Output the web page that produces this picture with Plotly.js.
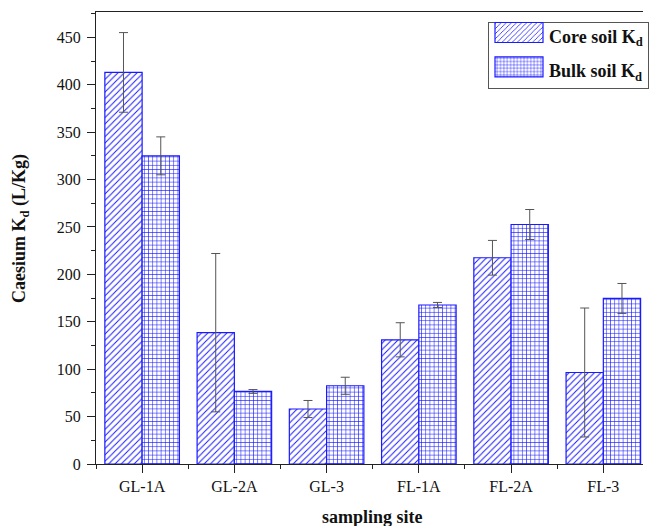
<!DOCTYPE html>
<html>
<head>
<meta charset="utf-8">
<script src="https://cdn.plot.ly/plotly-3.0.1.min.js"></script>
<style>
html,body{margin:0;padding:0;background:#fff;overflow:hidden;}
#chart{width:649px;height:526px;}
</style>
</head>
<body>
<div id="chart"></div>
<script>
const categories = ["GL-1A", "GL-2A", "GL-3", "FL-1A", "FL-2A", "FL-3"];
const coreKd = [413, 138.5, 58, 131, 217.5, 96.5];
const coreErr = [42, 83.5, 9, 18, 18.3, 68];
const bulkKd = [325, 76.5, 82.5, 167.7, 252.6, 174.6];
const bulkErr = [20, 2, 9, 2.7, 15.8, 15.8];
const seriesNames = ["Core soil K<sub>d</sub>", "Bulk soil K<sub>d</sub>"];
const yTitle = "Caesium K<sub>d</sub> (L/Kg)";
const xTitle = "sampling site";

const xPos = categories.map((_, i) => i);
const serif = "Liberation Serif, Times New Roman, serif";
const blue = "#1a1aff";

const data = [
  {
    type: "bar", name: seriesNames[0], x: xPos, y: coreKd, legendgroup: "core",
    marker: {color: "#ffffff", line: {color: blue, width: 1.2},
      pattern: {shape: "/", fgcolor: blue, bgcolor: "#ffffff", size: 4.5, solidity: 0.22}},
    error_y: {type: "data", array: coreErr, visible: true, color: "#555555", thickness: 1, width: 4.5}
  },
  {
    type: "bar", name: seriesNames[1], x: xPos, y: bulkKd, legendgroup: "bulk",
    marker: {color: "#ffffff", line: {color: blue, width: 1.2},
      pattern: {shape: "+", fgcolor: blue, bgcolor: "#ffffff", size: 4.2, solidity: 0.25}},
    error_y: {type: "data", array: bulkErr, visible: true, color: "#555555", thickness: 1, width: 4.5}
  }
];

const layout = {
  width: 649, height: 526,
  margin: {l: 96, r: 0, t: 12, b: 62, pad: 0},
  paper_bgcolor: "#ffffff", plot_bgcolor: "#ffffff",
  barmode: "group", bargap: 0.192, bargroupgap: 0,
  font: {family: serif, color: "#111111", size: 16},
  showlegend: true,
  legend: {
    x: 0.7167, y: (464 - 16) / 452.3, xanchor: "left", yanchor: "top",
    bgcolor: "#ffffff", bordercolor: "#555555", borderwidth: 1,
    font: {family: serif, size: 18, weight: "bold", color: "#111111"},
    itemwidth: 50, tracegroupgap: 8
  },
  xaxis: {
    type: "linear", range: [-0.5, 5.43],
    tickmode: "array", tickvals: xPos, ticktext: categories,
    ticks: "outside", ticklen: 8, tickwidth: 1, tickcolor: "#222222",
    minor: {ticks: "outside", tick0: 0.5, dtick: 1, ticklen: 4, tickwidth: 1, tickcolor: "#222222", showgrid: false},
    showline: true, linecolor: "#222222", linewidth: 1, mirror: true,
    showgrid: false, zeroline: false,
    tickfont: {family: serif, size: 16, color: "#111111"}
  },
  yaxis: {
    range: [0, 476.7], tick0: 0, dtick: 50,
    ticks: "outside", ticklen: 8, tickwidth: 1, tickcolor: "#222222",
    minor: {ticks: "outside", tick0: 25, dtick: 50, ticklen: 4.5, tickwidth: 1, tickcolor: "#222222", showgrid: false},
    showline: true, linecolor: "#222222", linewidth: 1,
    showgrid: false, zeroline: false, ticklabelstandoff: 3,
    tickfont: {family: serif, size: 16, color: "#111111"}
  },
  annotations: [
    {text: yTitle, xref: "paper", yref: "paper", x: -0.137, y: 0.52, xanchor: "center", yanchor: "middle",
     textangle: -90, showarrow: false, font: {family: serif, size: 18, weight: "bold", color: "#111111"}},
    {text: xTitle, xref: "x", yref: "paper", x: 2.5, y: -0.117, xanchor: "center", yanchor: "middle",
     showarrow: false, font: {family: serif, size: 18, weight: "bold", color: "#111111"}}
  ]
};

function tuneLegend(gd) {
  // widen the legend swatches to the wide rectangles of the reference
  gd.querySelectorAll("g.legendpoints path").forEach(function (p) {
    p.setAttribute("d", "M24,7H-24V-13H24Z");
  });
  // tighten the legend frame's top padding (only once)
  gd.querySelectorAll(".legend rect.bg").forEach(function (r) {
    if (r.getAttribute("data-tuned")) return;
    const y = parseFloat(r.getAttribute("y") || 0);
    const h = parseFloat(r.getAttribute("height") || 0);
    r.setAttribute("y", y + 6);
    r.setAttribute("height", h - 6);
    r.setAttribute("data-tuned", "1");
  });
}

Plotly.newPlot("chart", data, layout, {staticPlot: true, displayModeBar: false}).then(function (gd) {
  tuneLegend(gd);
  setTimeout(function () { tuneLegend(gd); }, 50);
});
</script>
</body>
</html>
